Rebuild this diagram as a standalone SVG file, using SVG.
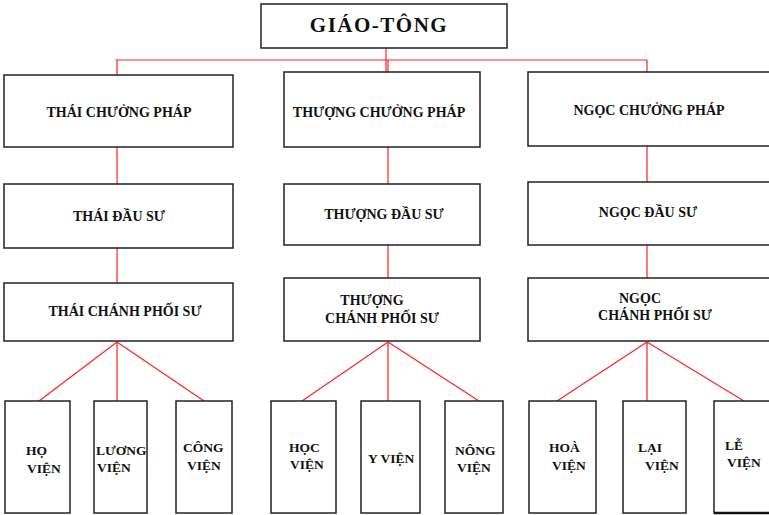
<svg xmlns="http://www.w3.org/2000/svg" width="769" height="515" viewBox="0 0 769 515">
<style>
.b{fill:#fff;stroke:#222;stroke-width:1.5}
.c{stroke:#f22;stroke-width:1.2;fill:none}
text{font-family:"Liberation Serif","Times New Roman",serif;font-weight:bold;font-size:14px;fill:#111}
.m{text-anchor:middle}
.t{font-size:21px;letter-spacing:1.5px}
.s{font-size:13.5px}
</style>
<rect width="769" height="515" fill="#fff"/>
<g id="connectors">
<path class="c" d="M386 48V73M116 60H647M117 60V75M388 60V72M647 60V72"/>
<path class="c" d="M117 147V184M117 248V283M388 147V184M388 245V278M647 146V182M647 245V278"/>
<path class="c" d="M117 342L39 401M117 342V401M117 342L204 401"/>
<path class="c" d="M388 342L302 401M388 342V401M388 342L479 401"/>
<path class="c" d="M647 342L557 401M647 342V401M647 342L744 401"/>
</g>
<g id="giao-tong"><rect class="b" x="261" y="4" width="246" height="44"/><text class="t m" x="379" y="32">GIÁO-TÔNG</text></g>
<g id="thai-chuong-phap"><rect class="b" x="4" y="75" width="229" height="72"/><text class="m" x="119" y="117">THÁI CHƯỞNG PHÁP</text></g>
<g id="thuong-chuong-phap"><rect class="b" x="284" y="72" width="196" height="75"/><text class="m" x="379" y="117">THƯỢNG CHƯỞNG PHÁP</text></g>
<g id="ngoc-chuong-phap"><rect class="b" x="528" y="72" width="245" height="74"/><text class="m" x="649" y="115">NGỌC CHƯỞNG PHÁP</text></g>
<g id="thai-dau-su"><rect class="b" x="4" y="184" width="229" height="64"/><text class="m" x="119" y="221">THÁI ĐẦU SƯ</text></g>
<g id="thuong-dau-su"><rect class="b" x="284" y="184" width="196" height="61"/><text class="m" x="384" y="219">THƯỢNG ĐẦU SƯ</text></g>
<g id="ngoc-dau-su"><rect class="b" x="528" y="182" width="245" height="63"/><text class="m" x="648" y="217">NGỌC ĐẦU SƯ</text></g>
<g id="thai-chanh-phoi-su"><rect class="b" x="4" y="283" width="229" height="58"/><text class="m" x="125" y="316">THÁI CHÁNH PHỐI SƯ</text></g>
<g id="thuong-chanh-phoi-su"><rect class="b" x="284" y="278" width="196" height="63"/><text class="m" x="372" y="305">THƯỢNG</text><text class="m" x="382" y="323">CHÁNH PHỐI SƯ</text></g>
<g id="ngoc-chanh-phoi-su"><rect class="b" x="528" y="278" width="245" height="63"/><text class="m" x="640" y="303">NGỌC</text><text class="m" x="655" y="320">CHÁNH PHỐI SƯ</text></g>
<g id="ho-vien"><rect class="b" x="5" y="401" width="65" height="112"/><text class="s" x="26" y="455">HỌ</text><text class="s" x="27" y="473">VIỆN</text></g>
<g id="luong-vien"><rect class="b" x="94" y="401" width="53" height="112"/><text class="s" x="96" y="455">LƯƠNG</text><text class="s" x="97" y="472">VIỆN</text></g>
<g id="cong-vien"><rect class="b" x="176" y="401" width="56" height="112"/><text class="s" x="183" y="452">CÔNG</text><text class="s" x="187" y="470">VIỆN</text></g>
<g id="hoc-vien"><rect class="b" x="271" y="401" width="65" height="112"/><text class="s" x="289" y="452">HỌC</text><text class="s" x="290" y="469">VIỆN</text></g>
<g id="y-vien"><rect class="b" x="361" y="401" width="59" height="112"/><text class="s" x="368" y="463">Y VIỆN</text></g>
<g id="nong-vien"><rect class="b" x="445" y="401" width="58" height="112"/><text class="s" x="455" y="455">NÔNG</text><text class="s" x="457" y="472">VIỆN</text></g>
<g id="hoa-vien"><rect class="b" x="529" y="401" width="67" height="112"/><text class="s" x="549" y="452">HOÀ</text><text class="s" x="552" y="470">VIỆN</text></g>
<g id="lai-vien"><rect class="b" x="623" y="401" width="63" height="112"/><text class="s" x="638" y="452">LẠI</text><text class="s" x="645" y="470">VIỆN</text></g>
<g id="le-vien"><rect class="b" x="714" y="401" width="60" height="112"/><path d="M714 513H769" stroke="#111" stroke-width="2.5"/><text class="s" x="725" y="450">LỄ</text><text class="s" x="727" y="467">VIỆN</text></g>
</svg>
